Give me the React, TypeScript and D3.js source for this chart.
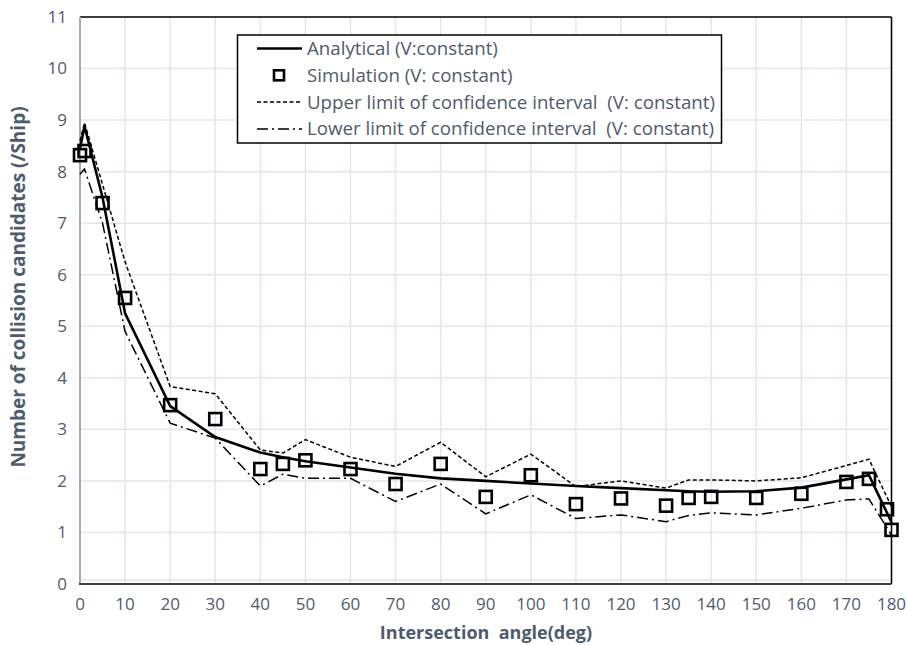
import React from "react";
import * as d3 from "d3";

// intersection angles (deg) used by the analytical curve and confidence limits
const lineAngles = [0, 1, 5, 10, 20, 30, 40, 45, 50, 60, 70, 80, 90, 100, 110, 120, 130, 135, 140, 150, 160, 170, 175, 180];
const analytical = [8.45, 8.88, 7.5, 5.25, 3.45, 2.85, 2.55, 2.46, 2.38, 2.26, 2.14, 2.05, 2.0, 1.95, 1.9, 1.86, 1.82, 1.8, 1.79, 1.8, 1.87, 2.03, 2.11, 1.2];
const upperLimit = [8.6, 8.95, 7.75, 6.25, 3.83, 3.69, 2.6, 2.54, 2.8, 2.46, 2.28, 2.75, 2.08, 2.52, 1.89, 2.0, 1.86, 2.02, 2.02, 2.0, 2.06, 2.3, 2.42, 1.5];
const lowerLimit = [7.95, 8.05, 7.0, 4.9, 3.12, 2.83, 1.9, 2.13, 2.05, 2.05, 1.6, 1.94, 1.36, 1.73, 1.27, 1.34, 1.21, 1.33, 1.38, 1.34, 1.47, 1.63, 1.65, 0.95];

// simulation points
const simAngles = [0, 1, 5, 10, 20, 30, 40, 45, 50, 60, 70, 80, 90, 100, 110, 120, 130, 135, 140, 150, 160, 170, 175, 179, 180];
const simulation = [8.32, 8.4, 7.39, 5.55, 3.47, 3.2, 2.23, 2.33, 2.4, 2.23, 1.94, 2.33, 1.69, 2.11, 1.55, 1.66, 1.52, 1.67, 1.69, 1.67, 1.75, 1.98, 2.04, 1.45, 1.05];

const xTicks = d3.range(0, 181, 10);
const yTicks = d3.range(0, 12, 1);

const legendItems = [
  { label: "Analytical (V:constant)", kind: "solid" },
  { label: "Simulation (V: constant)", kind: "marker" },
  { label: "Upper limit of confidence interval\u00a0 (V: constant)", kind: "dash" },
  { label: "Lower limit of confidence interval\u00a0 (V: constant)", kind: "dashdot" },
];

const textColor = "#4f5b6d";
const font = "'Open Sans', 'Noto Sans', sans-serif";

export default function App() {
  const width = 908;
  const height = 645;
  const left = 80;
  const right = 891.5;
  const top = 17;
  const bottom = 584;

  const x = d3.scaleLinear().domain([0, 180]).range([left, right]);
  const y = d3.scaleLinear().domain([0, 11]).range([bottom, top]);

  const makeLine = (values: number[]) =>
    d3
      .line<number>()
      .x((_, i) => x(lineAngles[i]))
      .y((v) => y(v))(values) || "";

  const styles: Record<string, { w: number; dash?: string }> = {
    solid: { w: 2.6 },
    dash: { w: 1.5, dash: "4 2.5" },
    dashdot: { w: 1.5, dash: "11 4 2 4" },
  };

  return (
    <svg
      width={width}
      height={height}
      style={{ position: "absolute", left: 0, top: 0, background: "#fff" }}
      fontFamily={font}
    >
      {/* grid */}
      {xTicks.map((t) => (
        <line key={"gx" + t} x1={x(t)} x2={x(t)} y1={top} y2={bottom} stroke="#e2e7ef" strokeWidth={1.5} />
      ))}
      {yTicks.map((t) => (
        <line key={"gy" + t} x1={left} x2={right} y1={y(t) - (t === 0 ? 4 : 0)} y2={y(t) - (t === 0 ? 4 : 0)} stroke="#e2e7ef" strokeWidth={1.5} />
      ))}

      {/* frame */}
      <line x1={left} x2={right} y1={top} y2={top} stroke="#000" strokeWidth={1.5} />
      <line x1={right} x2={right} y1={top} y2={bottom} stroke="#000" strokeWidth={1.5} />
      <line x1={left} x2={left} y1={top} y2={bottom} stroke="#a6abb3" strokeWidth={2} />
      <line x1={left - 1} x2={right} y1={bottom} y2={bottom} stroke="#404040" strokeWidth={2} />

      {/* tick labels */}
      {yTicks.map((t) => (
        <text key={"ty" + t} x={67} y={y(t)} dy="0.35em" textAnchor="end" fontSize={17} fill={textColor}>
          {t}
        </text>
      ))}
      {xTicks.map((t) => (
        <text key={"tx" + t} x={x(t)} y={604} dy="0.35em" textAnchor="middle" fontSize={17} fill={textColor}>
          {t}
        </text>
      ))}

      {/* axis titles */}
      <text x={486} y={633} dy="0.35em" textAnchor="middle" fontSize={18} fontWeight="bold" fill={textColor}>
        {"Intersection\u00a0 angle(deg)"}
      </text>
      <text
        transform={"translate(18,287) rotate(-90)"}
        dy="0.35em"
        textAnchor="middle"
        fontSize={19}
        fontWeight="bold"
        fill={textColor}
      >
        Number of collision candidates (/Ship)
      </text>

      {/* series */}
      <path d={makeLine(upperLimit)} fill="none" stroke="#000" strokeWidth={styles.dash.w} strokeDasharray={styles.dash.dash} />
      <path d={makeLine(lowerLimit)} fill="none" stroke="#000" strokeWidth={styles.dashdot.w} strokeDasharray={styles.dashdot.dash} />
      <path d={makeLine(analytical)} fill="none" stroke="#000" strokeWidth={styles.solid.w} strokeLinejoin="miter" />
      {simulation.map((v, i) => (
        <rect
          key={"s" + i}
          x={x(simAngles[i]) - 6}
          y={y(v) - 6}
          width={12}
          height={12}
          fill="none"
          stroke="#000"
          strokeWidth={2.6}
        />
      ))}

      {/* legend */}
      <rect x={237.5} y={35} width={484} height={108} fill="#fff" stroke="#000" strokeWidth={1.5} />
      {legendItems.map((item, i) => {
        const ly = 48.5 + i * 26.8;
        return (
          <g key={item.label}>
            {item.kind === "marker" ? (
              <rect x={274} y={ly - 5} width={10} height={10} fill="none" stroke="#000" strokeWidth={2.6} />
            ) : (
              <line
                x1={257}
                x2={302}
                y1={ly}
                y2={ly}
                stroke="#000"
                strokeWidth={styles[item.kind].w}
                strokeDasharray={styles[item.kind].dash}
              />
            )}
            <text x={307} y={ly} dy="0.35em" fontSize={18.7} fill={textColor}>
              {item.label}
            </text>
          </g>
        );
      })}
    </svg>
  );
}
